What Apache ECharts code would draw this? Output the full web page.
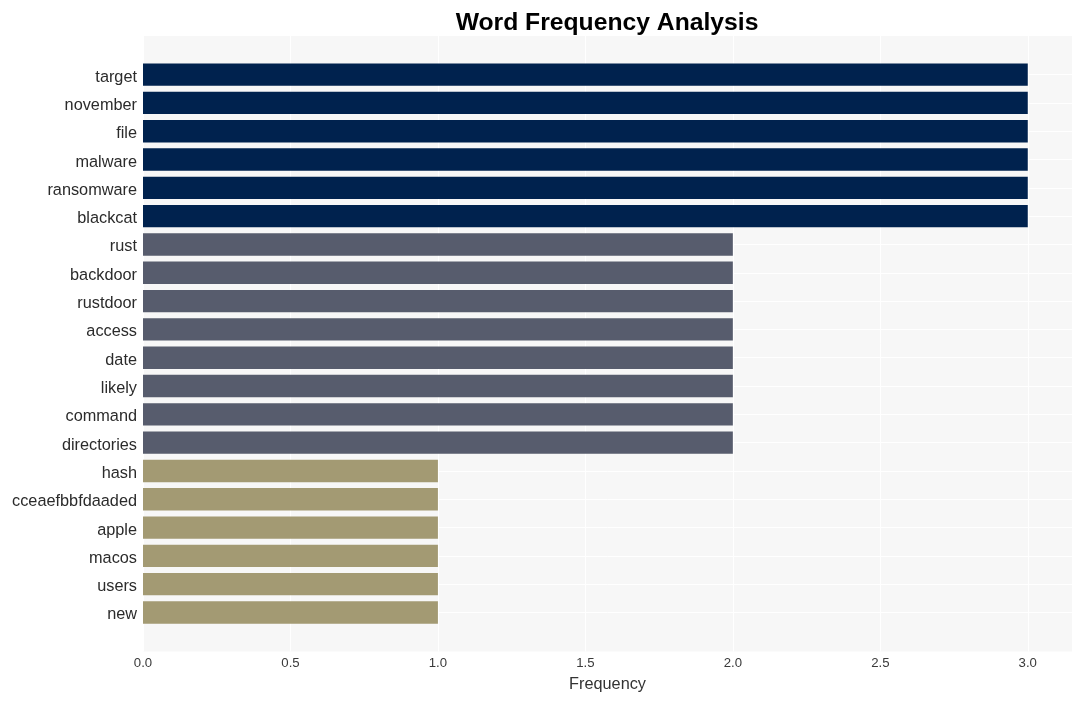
<!DOCTYPE html>
<html>
<head>
<meta charset="utf-8">
<script src="https://cdn.jsdelivr.net/npm/echarts@6/dist/echarts.min.js"></script>
<style>
html,body{margin:0;padding:0;background:#fff;}
#chart{width:1082px;height:701px;}
</style>
</head>
<body>
<div id="chart"></div>
<script>
const categories = ["target","november","file","malware","ransomware","blackcat","rust","backdoor","rustdoor","access","date","likely","command","directories","hash","cceaefbbfdaaded","apple","macos","users","new"];
const frequencies = [3,3,3,3,3,3,2,2,2,2,2,2,2,2,1,1,1,1,1,1];
const xTicks = [0, 0.5, 1.0, 1.5, 2.0, 2.5, 3.0];

const FONT = "'Liberation Sans', Arial, Helvetica, sans-serif";
const colorFor = v => v >= 3 ? '#00224e' : (v >= 2 ? '#575c6d' : '#a39a73');

const chart = echarts.init(document.getElementById('chart'), null, {renderer: 'canvas'});
chart.setOption({
  animation: false,
  backgroundColor: '#ffffff',
  title: {
    text: 'Word Frequency Analysis',
    left: 602, top: 6, textAlign: 'center',
    textStyle: {fontFamily: FONT, fontSize: 24.7, fontWeight: 'bold', color: '#000'}
  },
  grid: [
    {left: 143, right: 10, top: 36, bottom: 49.5, show: true, backgroundColor: '#f7f7f7', borderWidth: 0},
    {left: 143, right: 10, top: 74.6, bottom: 88.5}
  ],
  xAxis: [
    {
      type: 'value', gridIndex: 0, min: 0, max: 3.15, interval: 0.5,
      name: 'Frequency', nameLocation: 'middle', nameGap: 25,
      nameTextStyle: {fontFamily: FONT, fontSize: 16.3, color: '#333'},
      axisLine: {show: false}, axisTick: {show: false},
      axisLabel: {
        margin: 5, fontFamily: FONT, fontSize: 13.2, color: '#3a3a3a',
        showMaxLabel: false,
        formatter: v => xTicks.indexOf(v) >= 0 ? v.toFixed(1) : ''
      },
      splitLine: {show: true, lineStyle: {color: '#ffffff', width: 1}}
    },
    {
      type: 'value', gridIndex: 1, min: 0, max: 3.15, interval: 0.5,
      axisLine: {show: false}, axisTick: {show: false}, axisLabel: {show: false},
      splitLine: {show: false}
    }
  ],
  yAxis: [
    {
      type: 'category', gridIndex: 0, data: categories, show: false
    },
    {
      type: 'category', gridIndex: 1, data: categories, inverse: true, boundaryGap: false,
      axisLine: {show: false}, axisTick: {show: false},
      axisLabel: {
        margin: 6, interval: 0,
        formatter: v => '{w|' + v + '}',
        rich: {w: {fontFamily: FONT, fontSize: 16.3, color: '#2b2b2b', padding: [5, 0, 0, 0]}}
      },
      splitLine: {show: true, interval: 0, lineStyle: {color: '#ffffff', width: 1}}
    }
  ],
  series: [{
    type: 'bar', xAxisIndex: 1, yAxisIndex: 1,
    data: frequencies,
    barWidth: '79%',
    itemStyle: {color: p => colorFor(p.value)},
    silent: true
  }]
});
</script>
</body>
</html>
